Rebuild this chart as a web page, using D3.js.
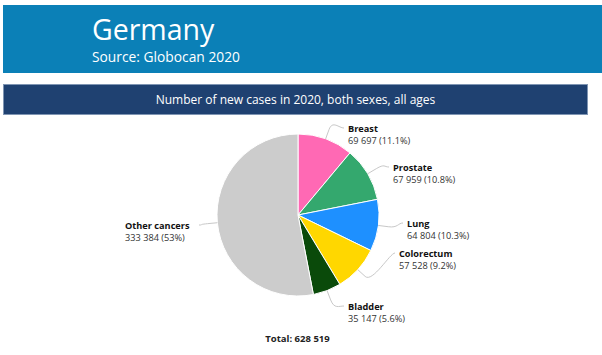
<!DOCTYPE html>
<html>
<head>
<meta charset="utf-8">
<script src="https://cdn.jsdelivr.net/npm/d3@7"></script>
<style>
  html, body { margin: 0; padding: 0; background: #ffffff; }
  svg { display: block; font-family: "Open Sans", sans-serif; }
</style>
</head>
<body>
<svg id="chart" width="602" height="355"></svg>
<script>
// ---- data ----
const categories = ["Breast", "Prostate", "Lung", "Colorectum", "Bladder", "Other cancers"];
const cases = [69697, 67959, 64804, 57528, 35147, 333384];
const shareLabels = ["11.1%", "10.8%", "10.3%", "9.2%", "5.6%", "53%"];
const total = 628519;
const title = "Germany";
const sourceText = "Source: Globocan 2020";
const subtitle = "Number of new cases in 2020, both sexes, all ages";

// ---- styles / layout ----
const colors = ["#ff69b4", "#34a86e", "#1e90ff", "#ffd700", "#0a4a0a", "#cccccc"];
// label anchor (text x, name baseline y) and side
const labelPos = [
  {x: 348, y: 132, side: "right"},
  {x: 393, y: 171, side: "right"},
  {x: 407, y: 227, side: "right"},
  {x: 399, y: 257, side: "right"},
  {x: 348, y: 310, side: "right"},
  {x: 196, y: 229, side: "left"}
];

const fmt = n => d3.format(",")(n).replace(/,/g, " ");

const svg = d3.select("#chart");

// header band
svg.append("rect").attr("x", 3).attr("y", 5).attr("width", 599).attr("height", 68).attr("fill", "#0b80b7");
svg.append("text").attr("x", 92).attr("y", 40).attr("fill", "#ffffff")
  .attr("font-size", 28.5).text(title);
svg.append("text").attr("x", 92).attr("y", 62).attr("fill", "#ffffff")
  .attr("font-size", 13.8).text(sourceText);

// subtitle banner
svg.append("rect").attr("x", 3.5).attr("y", 84.5).attr("width", 584).attr("height", 30)
  .attr("fill", "#1f4171").attr("stroke", "#7f95b3").attr("stroke-width", 1);
svg.append("text").attr("x", 295.5).attr("y", 104).attr("fill", "#ffffff")
  .attr("text-anchor", "middle").attr("font-size", 12).text(subtitle);

// pie
const cx = 298, cy = 215, r = 81;
const pie = d3.pie().sort(null).value(d => d.value);
const data = categories.map((c, i) => ({name: c, value: cases[i], share: shareLabels[i], color: colors[i], lp: labelPos[i]}));
const arcs = pie(data);
const arc = d3.arc().innerRadius(0).outerRadius(r);

const g = svg.append("g").attr("transform", `translate(${cx},${cy})`);
g.selectAll("path.slice").data(arcs).enter().append("path")
  .attr("class", "slice")
  .attr("d", arc)
  .attr("fill", d => d.data.color)
  .attr("stroke", "#ffffff")
  .attr("stroke-width", 1)
  .attr("stroke-linejoin", "round");

// connectors
arcs.forEach(d => {
  const a = (d.startAngle + d.endAngle) / 2;
  const tx = cx + r * Math.sin(a), ty = cy - r * Math.cos(a);
  const rb = r + 10;
  const bx = cx + rb * Math.sin(a), by = cy - rb * Math.cos(a);
  const lp = d.data.lp;
  const lx = lp.side === "right" ? lp.x - 4 : lp.x + 3;
  const ly = lp.y - 4;
  const c1x = lx + (lp.side === "right" ? -5 : 5);
  const p = d3.path();
  p.moveTo(lx, ly);
  p.bezierCurveTo(c1x, ly, 2 * bx - tx, 2 * by - ty, bx, by);
  p.lineTo(tx, ty);
  svg.append("path").attr("d", p.toString()).attr("fill", "none")
    .attr("stroke", "#c8c8c8").attr("stroke-width", 1);
});

// labels
arcs.forEach(d => {
  const lp = d.data.lp;
  const t = svg.append("text").attr("font-size", 9.2);
  const tx = lp.side === "right" ? lp.x : 125;
  t.append("tspan").attr("x", tx).attr("y", lp.y).attr("font-weight", "bold").attr("fill", "#111")
    .text(d.data.name);
  t.append("tspan").attr("x", tx).attr("y", lp.y + 11.5).attr("fill", "#333")
    .text(`${fmt(d.data.value)} (${d.data.share})`);
});

// total
svg.append("text").attr("x", 297.5).attr("y", 342).attr("text-anchor", "middle")
  .attr("font-size", 9.5).attr("font-weight", "bold").attr("fill", "#222")
  .text(`Total: ${fmt(total)}`);
</script>
</body>
</html>
